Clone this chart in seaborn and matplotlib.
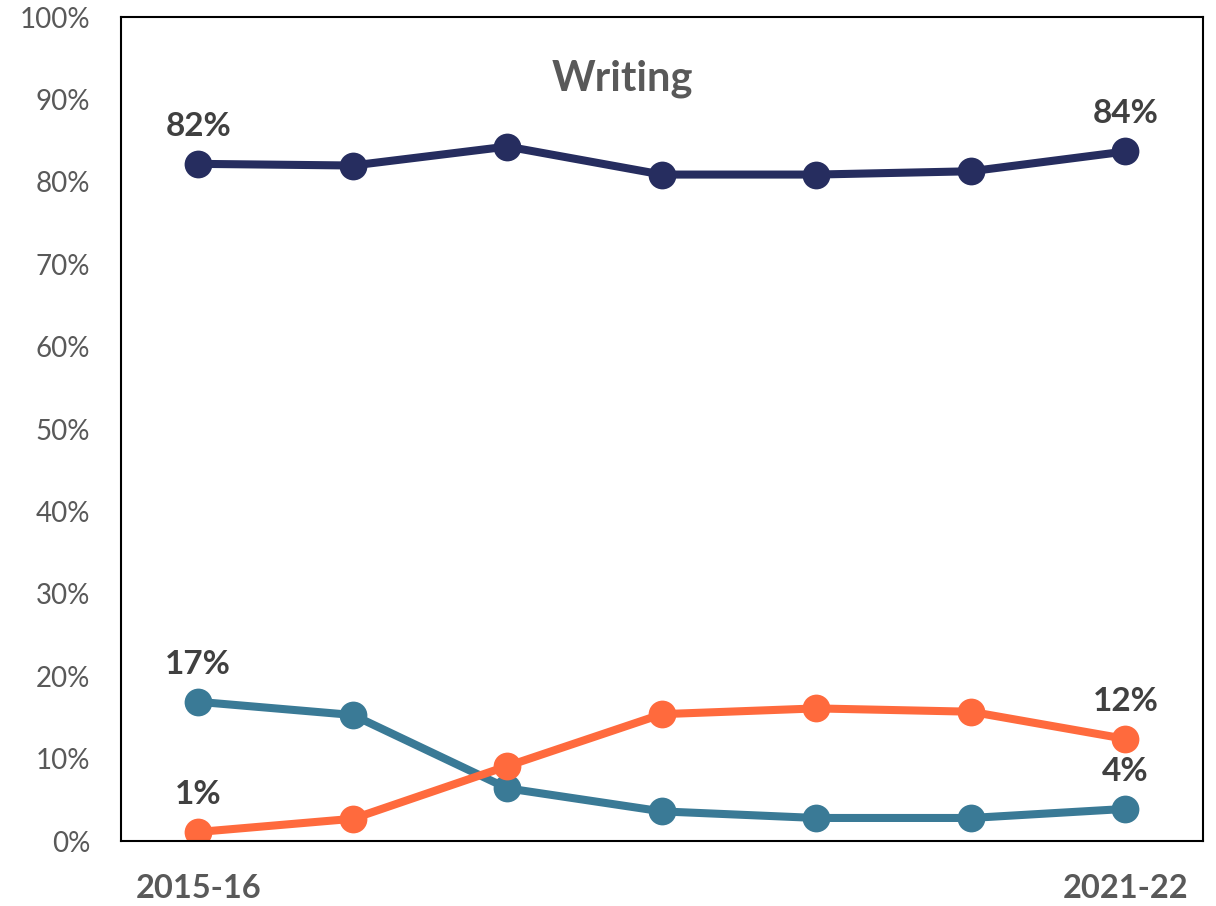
import matplotlib
matplotlib.use("Agg")
import matplotlib.pyplot as plt
import seaborn as sns
import pandas as pd

years = ["2015-16", "2016-17", "2017-18", "2018-19", "2019-20", "2020-21", "2021-22"]
shown_year_labels = ["2015-16", "", "", "", "", "", "2021-22"]
proficient = [82.2, 82.0, 84.3, 80.9, 80.9, 81.3, 83.7]
not_proficient = [16.9, 15.3, 6.4, 3.6, 2.8, 2.8, 3.9]
not_tested = [1.1, 2.7, 9.1, 15.4, 16.1, 15.7, 12.4]

series_names = ["Proficient", "Not proficient", "Not tested"]
series_values = [proficient, not_proficient, not_tested]
palette = {"Proficient": "#262D5F", "Not proficient": "#3A7A96", "Not tested": "#FF6A3D"}

rows = []
for name, vals in zip(series_names, series_values):
    for i, (yr, v) in enumerate(zip(years, vals)):
        rows.append({"year": yr, "idx": i, "value": v, "series": name})
df = pd.DataFrame(rows)

sns.set_theme(style="white")
plt.rcParams["font.family"] = ["Lato", "DejaVu Sans"]

fig = plt.figure(figsize=(12.16, 9.06), dpi=100)
ax = fig.add_axes([0.0995, 0.0717, 0.8895, 0.9093])

sns.lineplot(data=df, x="idx", y="value", hue="series", hue_order=series_names,
             palette=palette, marker="o", markersize=20, linewidth=5.8,
             markeredgewidth=0, legend=False, ax=ax, sort=False)

ax.set_xlim(-0.5, len(years) - 0.5)
ax.set_ylim(0, 100)
ax.set_xticks(range(len(years)))
ax.set_xticklabels(shown_year_labels, fontsize=23.5, fontweight="bold", color="#595959")
ax.set_yticks(range(0, 101, 10))
ax.set_yticklabels([f"{t}%" for t in range(0, 101, 10)], fontsize=20, color="#595959")
ax.tick_params(axis="x", length=0, pad=24)
ax.tick_params(axis="y", length=0, pad=22)
ax.set_xlabel("")
ax.set_ylabel("")
for s in ax.spines.values():
    s.set_visible(True)
    s.set_color("black")
    s.set_linewidth(1.5)

ax.text(0.464, 0.925, "Writing", transform=ax.transAxes, ha="center", va="center",
        fontsize=30, fontweight="bold", color="#595959")

# End-point value labels
labels = [
    (proficient, 0), (proficient, 6),
    (not_proficient, 0), (not_proficient, 6),
    (not_tested, 0), (not_tested, 6),
]
for vals, i in labels:
    ax.annotate(f"{round(vals[i])}%", (i, vals[i]), xytext=(0, 27), textcoords="offset points",
                ha="center", va="center", fontsize=24, fontweight="bold", color="#404040")

fig.savefig("out.png", dpi=100)
